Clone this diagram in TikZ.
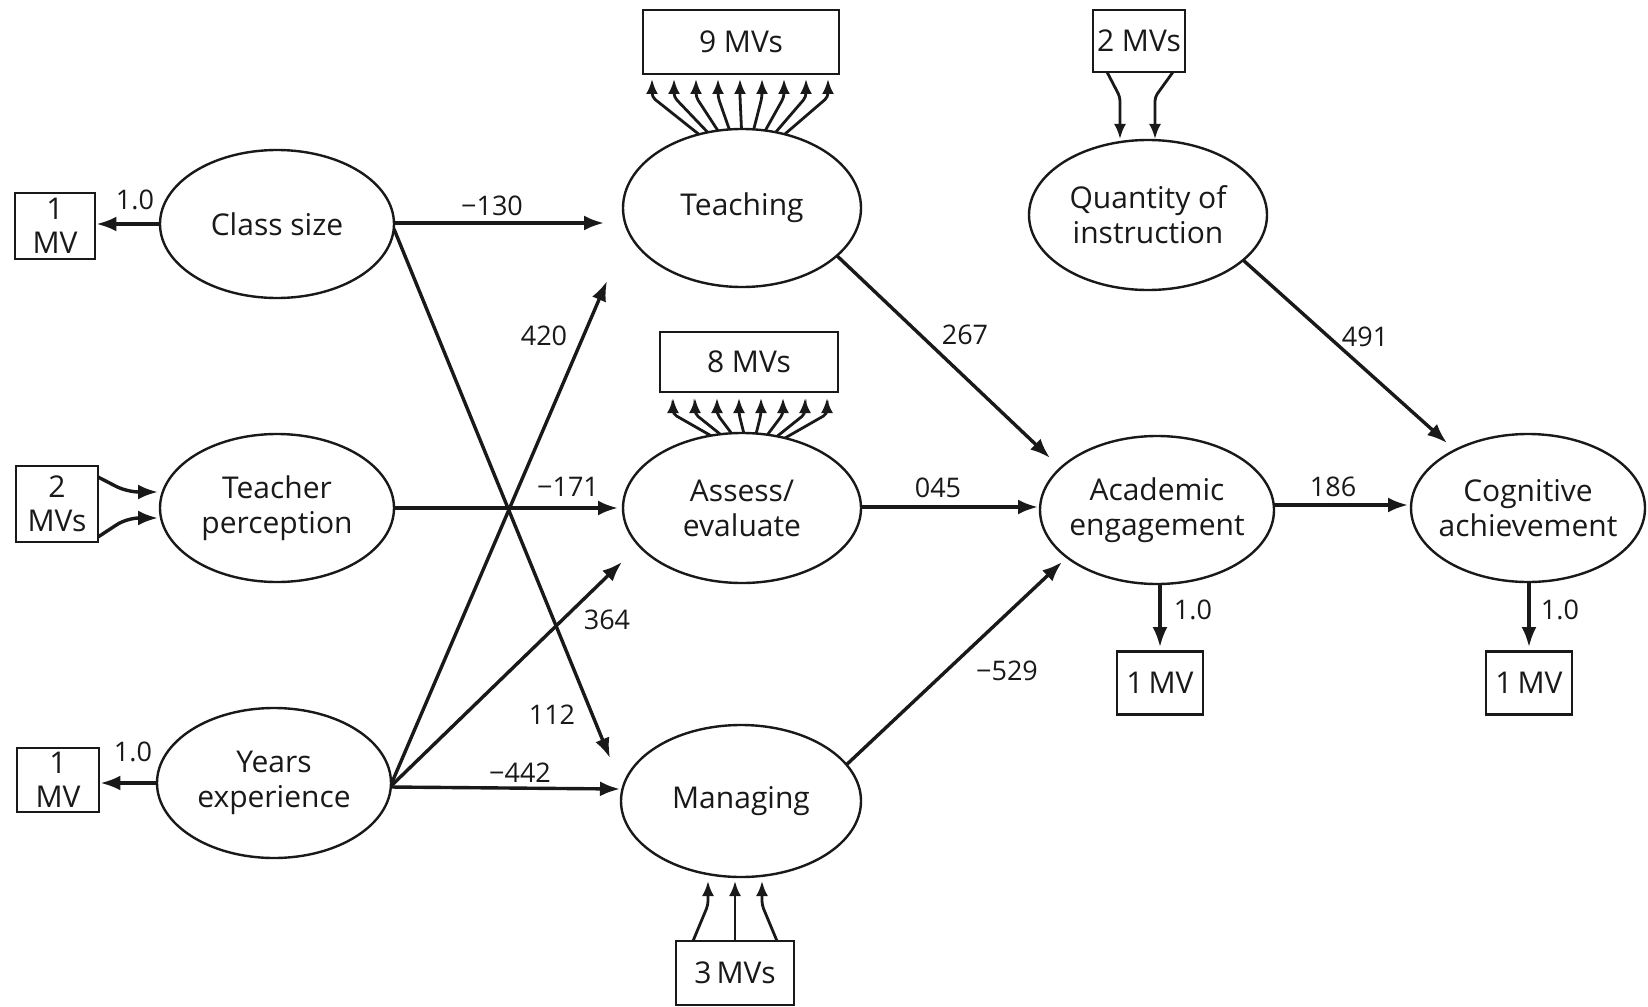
\documentclass[tikz,border=0pt]{standalone}
\usepackage{fontspec}
\setmainfont{Open Sans}
\usetikzlibrary{shapes.geometric,arrows.meta,calc}
\pgfdeclarelayer{back}
\pgfsetlayers{back,main}

\begin{document}
\begin{tikzpicture}[x=0.5pt,y=-0.5pt,
  latent/.style={ellipse, draw=black!90, line width=1.2pt, fill=white, inner sep=0pt},
  txt/.style={font=\fontsize{15}{17.5}\selectfont, align=center, text=black!90, inner sep=0pt},
  mv/.style={draw=black!90, line width=1.4pt, fill=white, inner sep=0pt,
    font=\fontsize{15}{17}\selectfont, align=center, text=black!90},
  coef/.style={font=\fontsize{13.5}{16}\selectfont, text=black!90, inner sep=1pt},
  link/.style={draw=black!90, line width=1.7pt, -{Latex[length=10pt,width=7.5pt]}},
  fan/.style={draw=black!90, line width=1.4pt, -{Latex[length=7.5pt,width=6pt]}, rounded corners=2pt},
]
\useasboundingbox (0,0) rectangle (1648,1006);

% latent variables
\node[latent, minimum width=117pt, minimum height=74pt, label={[txt]center:Class size}] (cs) at (277,224) {};
\node[latent, minimum width=117pt, minimum height=74pt, label={[txt]center:Teacher\\perception}] (tp) at (277,508) {};
\node[latent, minimum width=117pt, minimum height=75pt, label={[txt]center:Years\\experience}] (ye) at (274,783) {};
\node[latent, minimum width=119pt, minimum height=79pt, label={[txt]center:Teaching}] (teach) at (742,208) {};
\node[latent, minimum width=119pt, minimum height=75pt, label={[txt]center:Assess/\\evaluate}] (as) at (742,508) {};
\node[latent, minimum width=120pt, minimum height=76pt, label={[txt]center:Managing}] (mg) at (741,801) {};
\node[latent, minimum width=119pt, minimum height=75pt, label={[txt]center:Quantity of\\instruction}] (qi) at (1148,215) {};
\node[latent, minimum width=117pt, minimum height=74pt, label={[txt]center:Academic\\engagement}] (eng) at (1157,510) {};
\node[latent, minimum width=117pt, minimum height=74pt, label={[txt]center:Cognitive\\achievement}] (cog) at (1528,508) {};

% measured variables
\node[mv, minimum width=40pt, minimum height=33pt] (b1) at (55,226) {1\\MV};
\node[mv, minimum width=41pt, minimum height=38pt] (b2) at (57,504) {2\\MVs};
\node[mv, minimum width=41pt, minimum height=32pt] (b3) at (58,780) {1\\MV};
\node[mv, minimum width=98pt, minimum height=32pt] (b9) at (741,42) {9 MVs};
\node[mv, minimum width=89pt, minimum height=30pt] (b8) at (749,362) {8 MVs};
\node[mv, minimum width=59pt, minimum height=32pt] (bm) at (735,973) {3\,MVs};
\node[mv, minimum width=46pt, minimum height=31pt] (bq) at (1139,41) {2 MVs};
\node[mv, minimum width=43pt, minimum height=31.5pt] (be) at (1160,683) {1\,MV};
\node[mv, minimum width=43pt, minimum height=31.5pt] (bc) at (1529,683) {1\,MV};

% path coefficients
\node[coef] (k1) at (135,200) {1.0};
\node[coef] (k2) at (133,752) {1.0};
\node[coef] (k3) at (492,206) {−130};
\node[coef] (k4) at (544,336) {420};
\node[coef] (k5) at (568,487) {−171};
\node[coef] (k6) at (607,620) {364};
\node[coef] (k7) at (552,715) {112};
\node[coef] (k8) at (520,773) {−442};
\node[coef] (k9) at (965,335) {267};
\node[coef] (k10) at (938,488) {045};
\node[coef] (k11) at (1007,671) {−529};
\node[coef] (k12) at (1365,337) {491};
\node[coef] (k13) at (1333,487) {186};
\node[coef] (k14) at (1193,610) {1.0};
\node[coef] (k15) at (1560,610) {1.0};

\begin{pgfonlayer}{back}
  \fill[white] (0,0) rectangle (1648,1006);

  % loadings of single indicators
  \draw[link] (cs.west) -- (cs.west -| b1.east);
  \draw[link] (ye.west) -- (ye.west -| b3.east);
  \draw[link] (be.north |- eng.south) -- ($(be.north)+(0,-3)$);
  \draw[link] (bc.north |- cog.south) -- ($(bc.north)+(0,-3)$);

  % teacher perception indicators
  \draw[link, rounded corners=6pt] ($(b2)+(41,-27)$) -- ($(tp)+(-150,-16)$) -- ($(tp)+(-119,-16)$);
  \draw[link, rounded corners=6pt] ($(b2)+(41,33)$) -- ($(tp)+(-150,10)$) -- ($(tp)+(-119,10)$);

  % indicator fans
  \foreach \i in {-4,...,4} {
    \draw[fan] ($(teach)+({9*(\i)},-68)$) -- ($(b9)+({22*(\i)-1},55)$) -- ($(b9)+({22*(\i)-1},37)$);
  }
  \foreach \i in {-3.5,-2.5,...,3.5} {
    \draw[fan] ($(as)+({8+9*(\i)},-68)$) -- ($(b8)+({1+22*(\i)},52)$) -- ($(b8)+({1+22*(\i)},36)$);
  }
  \foreach \a/\b in {-42/-27, 0/0, 42/27} {
    \draw[fan] ($(bm)+(\a,-32)$) -- ($(bm)+(\b,-68)$) -- ($(bm)+(\b,-92)$);
  }
  \draw[fan] ($(bq)+(-32,31)$) -- ($(bq)+(-19,56)$) -- ($(bq)+(-19,98)$);
  \draw[fan] ($(bq)+(34,31)$) -- ($(bq)+(16,56)$) -- ($(bq)+(16,98)$);

  % structural paths
  \draw[link] ($(cs)+(117,-1)$) -- ($(teach)+(-138,15)$);
  \draw[link] ($(cs)+(117,5)$) -- ($(mg)+(-131,-43)$);
  \draw[link] ($(tp)+(117,0)$) -- ($(as)+(-124,0)$);
  \draw[link] ($(ye)+(116,4)$) -- ($(teach)+(-135,73)$);
  \draw[link] ($(ye)+(116,4)$) -- ($(as)+(-120,54)$);
  \draw[link] ($(ye)+(116,4)$) -- ($(mg)+(-121,-12)$);
  \draw[link] ($(teach)+(91,44)$) -- ($(eng)+(-107,-52)$);
  \draw[link] ($(as)+(119,-1)$) -- ($(eng)+(-119,-3)$);
  \draw[link] ($(mg)+(102,-33)$) -- ($(eng)+(-95,52)$);
  \draw[link] ($(qi)+(95,45)$) -- ($(cog)+(-81,-65)$);
  \draw[link] ($(eng)+(117,-5)$) -- ($(cog)+(-120,-3)$);
\end{pgfonlayer}
\end{tikzpicture}
\end{document}
